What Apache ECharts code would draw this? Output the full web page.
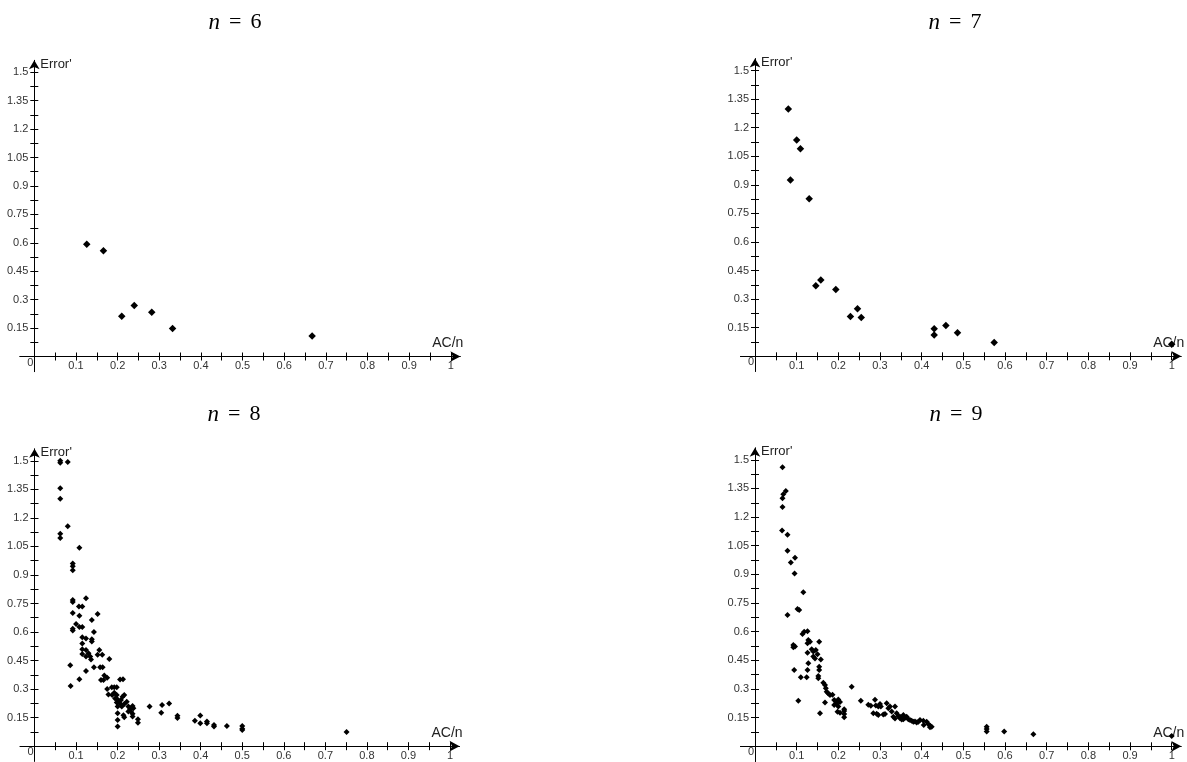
<!DOCTYPE html>
<html>
<head>
<meta charset="utf-8">
<title>Error' vs AC/n</title>
<script src="https://cdn.jsdelivr.net/npm/echarts@6.0.0/dist/echarts.min.js"></script>
<style>
  html, body { margin: 0; padding: 0; background: #fff; }
  #chart { width: 1187px; height: 762px; }
</style>
</head>
<body>
<div id="chart"></div>
<script>
// tick positions and labels
const xTicks = [0.05, 0.1, 0.15, 0.2, 0.25, 0.3, 0.35, 0.4, 0.45, 0.5, 0.55, 0.6, 0.65, 0.7, 0.75, 0.8, 0.85, 0.9, 0.95, 1]
const xLabels = [0, 0.1, 0.2, 0.3, 0.4, 0.5, 0.6, 0.7, 0.8, 0.9, 1]
const yTicks = [0.075, 0.15, 0.225, 0.3, 0.375, 0.45, 0.525, 0.6, 0.675, 0.75, 0.825, 0.9, 0.975, 1.05, 1.125, 1.2, 1.275, 1.35, 1.425, 1.5]
const yLabels = [0.15, 0.3, 0.45, 0.6, 0.75, 0.9, 1.05, 1.2, 1.35, 1.5]
const panelNames = ['6', '7', '8', '9']

// [AC/n, Error'] per panel
const n6 = [
  [0.126, 0.593], [0.166, 0.558], [0.21, 0.213], [0.24, 0.269], [0.282, 0.234], [0.332, 0.148], [0.667, 0.108],
]
const n7 = [
  [0.08, 1.298], [0.1, 1.135], [0.109, 1.089], [0.085, 0.926], [0.13, 0.827], [0.146, 0.37], [0.158, 0.401],
  [0.194, 0.351], [0.229, 0.209], [0.246, 0.25], [0.255, 0.204], [0.43, 0.145], [0.43, 0.112], [0.458, 0.162],
  [0.486, 0.124], [0.574, 0.073], [1.0, 0.063],
]
const n8 = [
  [0.062, 1.5], [0.062, 1.49], [0.08, 1.493], [0.062, 1.355], [0.062, 1.3], [0.08, 1.156], [0.062, 1.117],
  [0.062, 1.094], [0.108, 1.043], [0.092, 0.96], [0.092, 0.946], [0.092, 0.925],
  [0.092, 0.768], [0.092, 0.758], [0.124, 0.778], [0.107, 0.734], [0.115, 0.734], [0.092, 0.7], [0.152, 0.695],
  [0.108, 0.686], [0.138, 0.663], [0.1, 0.642], [0.092, 0.617], [0.092, 0.608], [0.108, 0.626], [0.115, 0.626],
  [0.143, 0.6], [0.115, 0.573], [0.124, 0.566], [0.138, 0.562], [0.138, 0.55], [0.115, 0.54], [0.115, 0.51],
  [0.124, 0.506], [0.156, 0.506], [0.115, 0.485], [0.13, 0.488], [0.134, 0.472], [0.124, 0.472], [0.152, 0.48],
  [0.163, 0.48], [0.136, 0.455], [0.18, 0.458], [0.086, 0.426], [0.143, 0.415], [0.158, 0.415], [0.164, 0.415],
  [0.124, 0.395], [0.168, 0.372], [0.175, 0.36], [0.108, 0.352], [0.16, 0.348], [0.166, 0.348], [0.087, 0.316],
  [0.175, 0.3], [0.186, 0.31], [0.192, 0.31], [0.198, 0.31], [0.178, 0.272], [0.206, 0.35], [0.213, 0.352],
  [0.192, 0.281], [0.198, 0.269], [0.194, 0.251], [0.2, 0.246], [0.204, 0.234], [0.208, 0.243], [0.212, 0.26],
  [0.216, 0.269], [0.206, 0.225], [0.198, 0.229], [0.2, 0.208], [0.21, 0.208], [0.216, 0.222], [0.222, 0.234],
  [0.226, 0.208], [0.23, 0.196], [0.226, 0.182], [0.232, 0.182], [0.238, 0.199], [0.236, 0.211], [0.236, 0.17],
  [0.236, 0.156], [0.214, 0.163], [0.216, 0.152], [0.2, 0.173], [0.2, 0.138], [0.2, 0.103], [0.187, 0.269],
  [0.249, 0.141], [0.249, 0.123],
  [0.277, 0.208], [0.307, 0.217], [0.305, 0.176], [0.324, 0.225], [0.344, 0.16], [0.344, 0.148], [0.386, 0.134],
  [0.399, 0.161], [0.399, 0.12], [0.415, 0.13], [0.415, 0.121], [0.432, 0.111], [0.432, 0.103], [0.463, 0.106],
  [0.5, 0.106], [0.5, 0.092], [0.5, 0.085], [0.751, 0.075],
]
const n9 = [
  [0.066, 1.461], [0.074, 1.336], [0.068, 1.32], [0.066, 1.299], [0.066, 1.253], [0.065, 1.13], [0.078, 1.108],
  [0.078, 1.024], [0.096, 0.987], [0.086, 0.962], [0.095, 0.905], [0.116, 0.806], [0.078, 0.688], [0.102, 0.719],
  [0.106, 0.714], [0.114, 0.588], [0.118, 0.6], [0.126, 0.602], [0.092, 0.53], [0.096, 0.522], [0.092, 0.518],
  [0.128, 0.557], [0.132, 0.548], [0.126, 0.539], [0.154, 0.548], [0.126, 0.49], [0.136, 0.508], [0.14, 0.496],
  [0.146, 0.504], [0.15, 0.482], [0.14, 0.47], [0.144, 0.46], [0.158, 0.455], [0.128, 0.435], [0.094, 0.4],
  [0.126, 0.4], [0.154, 0.417], [0.154, 0.4], [0.11, 0.361], [0.124, 0.361], [0.152, 0.368], [0.152, 0.356],
  [0.164, 0.333], [0.168, 0.321], [0.17, 0.304], [0.172, 0.286], [0.176, 0.277], [0.18, 0.269], [0.186, 0.27],
  [0.232, 0.312], [0.104, 0.239], [0.168, 0.229], [0.19, 0.243], [0.194, 0.234], [0.196, 0.222], [0.19, 0.216],
  [0.2, 0.208], [0.198, 0.181], [0.204, 0.176], [0.2, 0.245], [0.204, 0.232], [0.214, 0.194], [0.214, 0.169],
  [0.214, 0.152], [0.214, 0.185], [0.156, 0.173],
  [0.254, 0.239], [0.272, 0.218], [0.278, 0.212], [0.288, 0.244], [0.284, 0.173], [0.29, 0.213], [0.296, 0.209],
  [0.292, 0.17], [0.296, 0.164], [0.3, 0.222], [0.302, 0.209], [0.308, 0.166], [0.312, 0.169], [0.316, 0.225],
  [0.32, 0.199], [0.324, 0.208], [0.328, 0.182], [0.332, 0.155], [0.336, 0.145], [0.336, 0.208], [0.34, 0.173],
  [0.344, 0.159], [0.348, 0.155], [0.348, 0.147], [0.352, 0.14], [0.356, 0.164], [0.356, 0.141], [0.36, 0.15],
  [0.364, 0.155], [0.368, 0.141], [0.372, 0.138], [0.376, 0.134], [0.38, 0.129], [0.384, 0.13], [0.388, 0.124],
  [0.392, 0.128], [0.396, 0.138], [0.404, 0.134], [0.405, 0.112], [0.412, 0.129], [0.416, 0.117], [0.42, 0.108],
  [0.424, 0.103], [0.42, 0.1], [0.556, 0.103], [0.556, 0.091], [0.556, 0.077], [0.598, 0.077], [0.668, 0.063],
  [1.0, 0.054],
]

const X_MIN = -0.035
const X_MAX = 1.023
const Y_MIN = -0.08
const Y_MAX = 1.563

// origin (px) and px per unit of every panel
const panels = [
  { data: n6, ox: 34.3, oy: 356.5, sx: 416.5, sy: 189.5, size: 7.5, tx: 235, ty: 11 },
  { data: n7, ox: 755, oy: 356.3, sx: 416.7, sy: 190.5, size: 7.5, tx: 955, ty: 11 },
  { data: n8, ox: 34.5, oy: 746.2, sx: 415.5, sy: 190.3, size: 6, tx: 234, ty: 403 },
  { data: n9, ox: 755, oy: 746.3, sx: 416.7, sy: 191, size: 6, tx: 956, ty: 403 },
]

const sans = "'Liberation Sans', Arial, sans-serif"
const serif = "'Liberation Serif', 'Times New Roman', serif"
const tickStyle = { color: '#000', width: 1 }

const grid = []
const xAxis = []
const yAxis = []
const series = []
const title = []

panels.forEach((p, i) => {
  // plot grid: axis lines cross at the origin
  grid.push({
    left: p.ox + X_MIN * p.sx,
    top: p.oy - Y_MAX * p.sy,
    width: (X_MAX - X_MIN) * p.sx,
    height: (Y_MAX - Y_MIN) * p.sy,
    outerBoundsMode: 'none',
    containLabel: false,
  })
  // label grid: starts exactly at the origin, only carries the tick labels
  grid.push({
    left: p.ox,
    top: p.oy - Y_MAX * p.sy,
    width: X_MAX * p.sx,
    height: Y_MAX * p.sy,
    outerBoundsMode: 'none',
    containLabel: false,
  })
  const g = i * 2

  title.push({
    text: '{i|n}{e|=}' + panelNames[i],
    left: p.tx,
    top: p.ty,
    padding: 0,
    textAlign: 'center',
    textVerticalAlign: 'top',
    textStyle: {
      fontFamily: serif,
      fontSize: 22,
      fontWeight: 'normal',
      color: '#000',
      rich: {
        i: { fontFamily: serif, fontStyle: 'italic', fontSize: 23, color: '#000' },
        e: { fontFamily: serif, fontSize: 22, color: '#000', padding: [0, 9, 0, 9] },
      },
    },
  })

  // main x axis: line, arrow, outer half of the ticks, name
  xAxis.push({
    type: 'value',
    gridIndex: g,
    position: 'bottom',
    min: X_MIN,
    max: X_MAX,
    name: 'AC/n',
    nameLocation: 'end',
    nameGap: 3,
    nameTextStyle: {
      fontFamily: sans, fontSize: 14, color: '#222',
      align: 'right', verticalAlign: 'bottom', padding: [0, 0, 6, 0],
    },
    axisLine: {
      onZero: true,
      symbol: ['none', 'arrow'],
      symbolSize: [8, 10],
      lineStyle: { color: '#000', width: 1 },
    },
    axisTick: { customValues: xTicks, length: 4, lineStyle: tickStyle },
    axisLabel: { show: false },
    splitLine: { show: false },
  })
  // inner half of the crossing ticks
  xAxis.push({
    type: 'value',
    gridIndex: g,
    position: 'top',
    min: X_MIN,
    max: X_MAX,
    axisLine: { show: false, onZero: true },
    axisTick: { customValues: xTicks, length: 4, lineStyle: tickStyle },
    axisLabel: { show: false },
    splitLine: { show: false },
  })
  // tick labels
  xAxis.push({
    type: 'value',
    gridIndex: g + 1,
    position: 'bottom',
    min: 0,
    max: X_MAX,
    axisLine: { show: false, onZero: false },
    axisTick: { show: false },
    axisLabel: {
      customValues: xLabels,
      margin: 4,
      fontFamily: sans,
      fontSize: 11,
      color: '#333',
      formatter: (v) => (v === 0 ? '{o|0}' : String(v)),
      rich: { o: { fontFamily: sans, fontSize: 11, color: '#333', lineHeight: 4, padding: [0, 8, 0, 0] } },
    },
    splitLine: { show: false },
  })

  yAxis.push({
    type: 'value',
    gridIndex: g,
    position: 'left',
    min: Y_MIN,
    max: Y_MAX,
    name: "Error'",
    nameLocation: 'end',
    nameGap: -4,
    nameTextStyle: {
      fontFamily: sans, fontSize: 13, color: '#222',
      align: 'left', verticalAlign: 'middle', padding: [0, 0, 0, 6],
    },
    axisLine: {
      onZero: true,
      symbol: ['none', 'arrow'],
      symbolSize: [8, 9],
      lineStyle: { color: '#000', width: 1 },
    },
    axisTick: { customValues: yTicks, length: 4, lineStyle: tickStyle },
    axisLabel: { show: false },
    splitLine: { show: false },
  })
  yAxis.push({
    type: 'value',
    gridIndex: g,
    position: 'right',
    min: Y_MIN,
    max: Y_MAX,
    axisLine: { show: false, onZero: true },
    axisTick: { customValues: yTicks, length: 4, lineStyle: tickStyle },
    axisLabel: { show: false },
    splitLine: { show: false },
  })
  yAxis.push({
    type: 'value',
    gridIndex: g + 1,
    position: 'left',
    min: 0,
    max: Y_MAX,
    axisLine: { show: false, onZero: false },
    axisTick: { show: false },
    axisLabel: {
      customValues: yLabels,
      margin: 6,
      fontFamily: sans,
      fontSize: 11,
      color: '#333',
      formatter: (v) => String(v),
    },
    splitLine: { show: false },
  })

  series.push({
    type: 'scatter',
    xAxisIndex: i * 3,
    yAxisIndex: i * 3,
    data: p.data,
    symbol: 'diamond',
    symbolSize: p.size,
    itemStyle: { color: '#000', opacity: 1 },
    silent: true,
  })
})

const chart = echarts.init(document.getElementById('chart'), null, { renderer: 'canvas' })
chart.setOption({
  backgroundColor: '#fff',
  animation: false,
  title,
  grid,
  xAxis,
  yAxis,
  series,
})
window.addEventListener('resize', () => chart.resize())
</script>
</body>
</html>
